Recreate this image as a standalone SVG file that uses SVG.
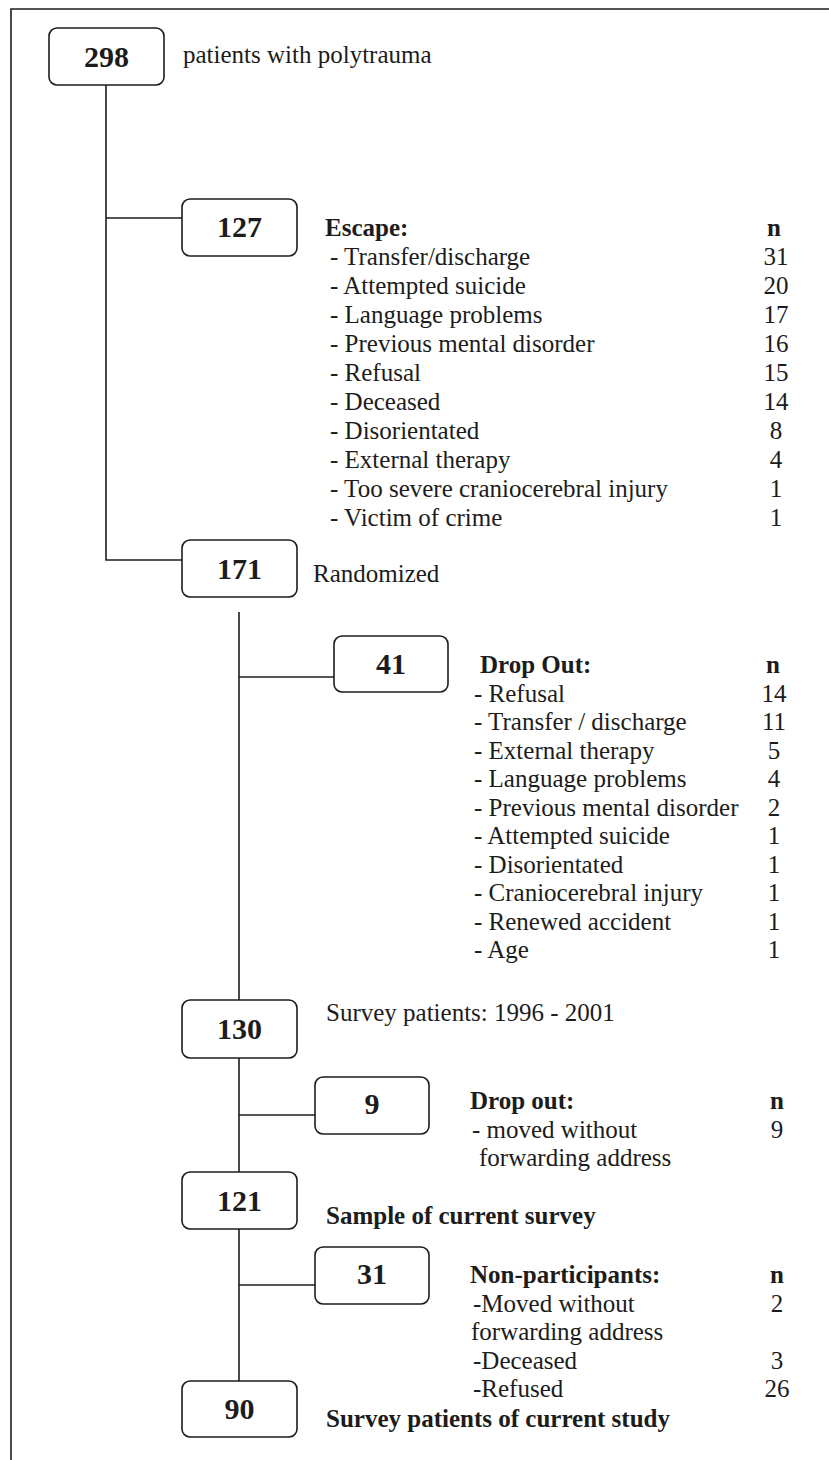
<svg xmlns="http://www.w3.org/2000/svg" width="829" height="1460" viewBox="0 0 829 1460">
<style>
  text { font-family: "Liberation Serif", "Times New Roman", serif; fill: #1c1c1c; }
  .t { font-size: 25px; }
  .b { font-size: 25px; font-weight: bold; }
  .num { font-size: 30px; font-weight: bold; text-anchor: middle; }
  .c { text-anchor: middle; }
  .box { fill: #ffffff; stroke: #1c1c1c; stroke-width: 1.6; }
  .ln { fill: none; stroke: #1c1c1c; stroke-width: 1.6; }
</style>
<rect x="0" y="0" width="829" height="1460" fill="#ffffff"/>
<path class="ln" d="M11,1460 V9 H829"/>

<g id="connectors">
  <path class="ln" d="M106,85 V560 H182"/>
  <path class="ln" d="M106,218 H182"/>
  <path class="ln" d="M239,612 V1000"/>
  <path class="ln" d="M239,677 H334"/>
  <path class="ln" d="M239,1058 V1172"/>
  <path class="ln" d="M239,1115 H315"/>
  <path class="ln" d="M239,1229 V1381"/>
  <path class="ln" d="M239,1285 H315"/>
</g>

<g id="n298">
  <rect class="box" x="49" y="28" width="115" height="57" rx="8"/>
  <text class="num" x="106.5" y="67">298</text>
  <text class="t" x="183" y="63">patients with polytrauma</text>
</g>

<g id="n127">
  <rect class="box" x="182" y="199" width="115" height="57" rx="8"/>
  <text class="num" x="239.5" y="237">127</text>
</g>
<g id="escape">
  <text class="b" x="325" y="236">Escape:</text>
  <text class="b c" x="774" y="236">n</text>
  <text class="t" x="330" y="265">- Transfer/discharge</text>
  <text class="t" x="330" y="294">- Attempted suicide</text>
  <text class="t" x="330" y="323">- Language problems</text>
  <text class="t" x="330" y="352">- Previous mental disorder</text>
  <text class="t" x="330" y="381">- Refusal</text>
  <text class="t" x="330" y="410">- Deceased</text>
  <text class="t" x="330" y="439">- Disorientated</text>
  <text class="t" x="330" y="468">- External therapy</text>
  <text class="t" x="330" y="497">- Too severe craniocerebral injury</text>
  <text class="t" x="330" y="526">- Victim of crime</text>
  <text class="t c" x="776" y="265">31</text>
  <text class="t c" x="776" y="294">20</text>
  <text class="t c" x="776" y="323">17</text>
  <text class="t c" x="776" y="352">16</text>
  <text class="t c" x="776" y="381">15</text>
  <text class="t c" x="776" y="410">14</text>
  <text class="t c" x="776" y="439">8</text>
  <text class="t c" x="776" y="468">4</text>
  <text class="t c" x="776" y="497">1</text>
  <text class="t c" x="776" y="526">1</text>
</g>

<g id="n171">
  <rect class="box" x="182" y="540" width="115" height="57" rx="8"/>
  <text class="num" x="239.5" y="579">171</text>
  <text class="t" x="313" y="582">Randomized</text>
</g>

<g id="n41">
  <rect class="box" x="334" y="636" width="114" height="56" rx="8"/>
  <text class="num" x="391" y="674">41</text>
</g>
<g id="dropout1">
  <text class="b" x="480" y="673">Drop Out:</text>
  <text class="b c" x="773" y="673">n</text>
  <text class="t" x="474" y="701.5">- Refusal</text>
  <text class="t" x="474" y="730">- Transfer / discharge</text>
  <text class="t" x="474" y="758.5">- External therapy</text>
  <text class="t" x="474" y="787">- Language problems</text>
  <text class="t" x="474" y="815.5">- Previous mental disorder</text>
  <text class="t" x="474" y="844">- Attempted suicide</text>
  <text class="t" x="474" y="872.5">- Disorientated</text>
  <text class="t" x="474" y="901">- Craniocerebral injury</text>
  <text class="t" x="474" y="929.5">- Renewed accident</text>
  <text class="t" x="474" y="958">- Age</text>
  <text class="t c" x="774" y="701.5">14</text>
  <text class="t c" x="774" y="730">11</text>
  <text class="t c" x="774" y="758.5">5</text>
  <text class="t c" x="774" y="787">4</text>
  <text class="t c" x="774" y="815.5">2</text>
  <text class="t c" x="774" y="844">1</text>
  <text class="t c" x="774" y="872.5">1</text>
  <text class="t c" x="774" y="901">1</text>
  <text class="t c" x="774" y="929.5">1</text>
  <text class="t c" x="774" y="958">1</text>
</g>

<g id="n130">
  <rect class="box" x="182" y="1000" width="115" height="58" rx="8"/>
  <text class="num" x="239.5" y="1039">130</text>
  <text class="t" x="326" y="1021">Survey patients: 1996 - 2001</text>
</g>

<g id="n9">
  <rect class="box" x="315" y="1077" width="114" height="57" rx="8"/>
  <text class="num" x="372" y="1114">9</text>
</g>
<g id="dropout2">
  <text class="b" x="470" y="1109">Drop out:</text>
  <text class="b c" x="777" y="1109">n</text>
  <text class="t" x="472" y="1138">- moved without</text>
  <text class="t c" x="777" y="1138">9</text>
  <text class="t" x="479" y="1166">forwarding address</text>
</g>

<g id="n121">
  <rect class="box" x="182" y="1172" width="115" height="57" rx="8"/>
  <text class="num" x="239.5" y="1211">121</text>
  <text class="b" x="326" y="1224">Sample of current survey</text>
</g>

<g id="n31">
  <rect class="box" x="315" y="1247" width="114" height="57" rx="8"/>
  <text class="num" x="372" y="1284">31</text>
</g>
<g id="nonpart">
  <text class="b" x="470" y="1283">Non-participants:</text>
  <text class="b c" x="777" y="1283">n</text>
  <text class="t" x="473" y="1311.5">-Moved without</text>
  <text class="t c" x="777" y="1311.5">2</text>
  <text class="t" x="471" y="1340">forwarding address</text>
  <text class="t" x="473" y="1368.5">-Deceased</text>
  <text class="t c" x="777" y="1368.5">3</text>
  <text class="t" x="473" y="1397">-Refused</text>
  <text class="t c" x="777" y="1397">26</text>
</g>

<g id="n90">
  <rect class="box" x="182" y="1381" width="115" height="56" rx="8"/>
  <text class="num" x="239.5" y="1419">90</text>
  <text class="b" x="326" y="1427">Survey patients of current study</text>
</g>
</svg>
